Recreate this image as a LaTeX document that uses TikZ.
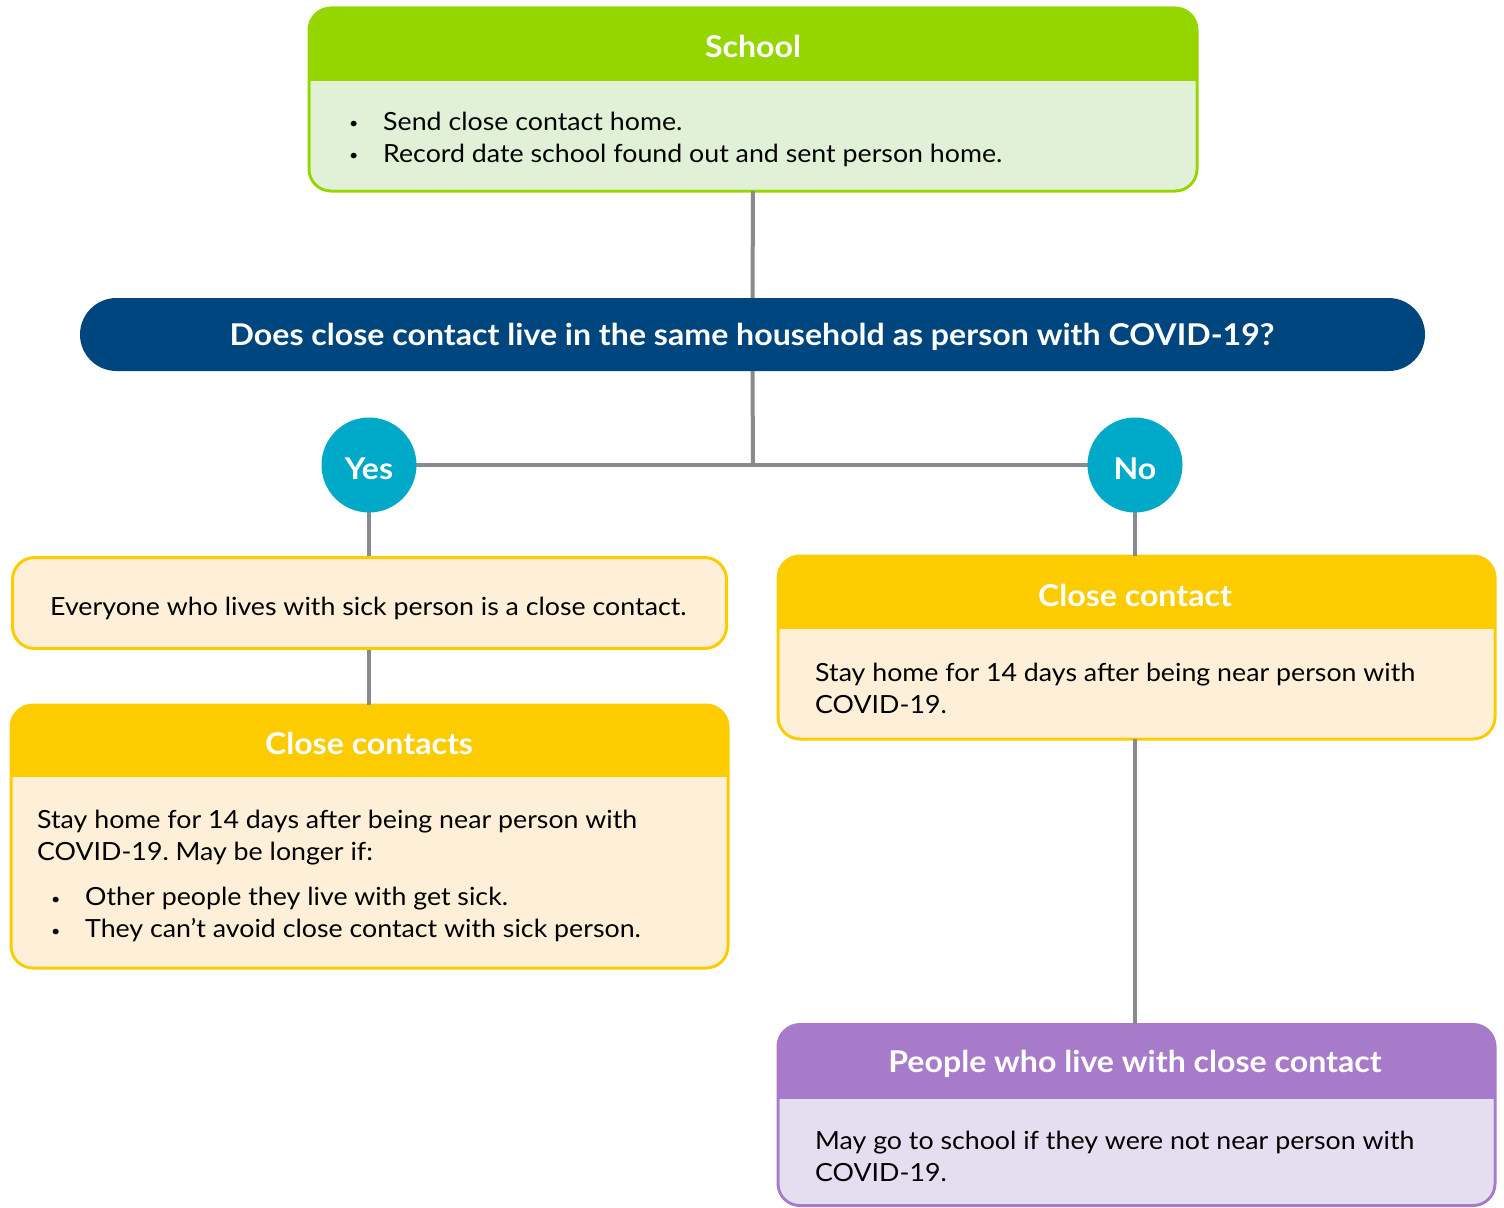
\documentclass[tikz,border=0pt]{standalone}
\usepackage{fontspec}
\setmainfont{Lato}[FakeStretch=1.07]
\frenchspacing
\definecolor{grn}{RGB}{149,214,0}
\definecolor{grnbg}{RGB}{225,241,215}
\definecolor{navy}{RGB}{0,70,126}
\definecolor{teal}{RGB}{0,169,199}
\definecolor{lgray}{RGB}{137,138,141}
\definecolor{ylw}{RGB}{252,204,0}
\definecolor{cream}{RGB}{254,240,216}
\definecolor{purp}{RGB}{167,123,202}
\definecolor{lav}{RGB}{229,222,240}
\tikzset{
  card/.style={rectangle, rounded corners=22pt, line width=3pt, inner sep=0pt},
  hdrtext/.style={text=white, font=\fontsize{30}{34}\selectfont\bfseries},
  bodytext/.style={text=black, font=\fontsize{25}{32}\selectfont, align=left, inner sep=0pt, anchor=west},
  conn/.style={draw=lgray, line width=4pt},
  ball/.style={circle, fill=teal, minimum size=95pt, inner sep=0pt, text=white, text height=28pt, text depth=0pt, font=\fontsize{30}{34}\selectfont\bfseries},
}
\newcommand{\bul}{\makebox[36pt][l]{\hspace*{2pt}\raisebox{1.5pt}{\fontsize{15}{15}\selectfont\textbullet}}}
\newcommand{\header}[3]{% node, height, colour
  \begin{scope}
    \clip[rounded corners=22pt] (#1.north west) rectangle (#1.south east);
    \fill[#3] (#1.north west) rectangle ([yshift=-#2]#1.north east);
  \end{scope}
  \draw[#3, line width=3pt, rounded corners=22pt] (#1.north west) rectangle (#1.south east);
}
\begin{document}
\begin{tikzpicture}[x=1pt,y=-1pt]
\useasboundingbox (0,0) rectangle (1504,1207);

% School
\node[card, fill=grnbg, minimum width=885pt, minimum height=180pt] (school) at (753,99.5) {};
\header{school}{73pt}{grn}
\node[hdrtext] (schoolT) at (753,46) {School};
\node[bodytext] (schoolB) at (347,139) {\bul Send close contact home.\\ \bul Record date school found out and sent person home.};

% Question
\node[rectangle, rounded corners=36.5pt, fill=navy, minimum width=1345pt, minimum height=73pt] (q) at (752.5,334.5) {};
\node[hdrtext] (qT) at (752,337) {Does close contact live in the same household as person with COVID-19?};

% Yes / No
\coordinate (j) at (753,465);
\coordinate (yesc) at (369,465);
\coordinate (noc) at (1135,465);

% Everyone box
\node[card, draw=ylw, fill=cream, minimum width=714pt, minimum height=91pt] (every) at (369.5,603) {};
\node[bodytext] (everyT) at (50,608) {Everyone who lives with sick person is a close contact.};

% Close contacts
\node[card, fill=cream, minimum width=714pt, minimum height=260pt] (ccs) at (369.5,836.5) {};
\header{ccs}{72pt}{ylw}
\node[hdrtext] (ccsT) at (369,743) {Close contacts};
\node[bodytext] (ccsB) at (37,876) {Stay home for 14 days after being near person with\\ COVID-19. May be longer if:\\[13pt] \hspace*{12pt}\bul Other people they live with get sick.\\ \hspace*{12pt}\bul They can’t avoid close contact with sick person.};

% Close contact (right)
\node[card, fill=cream, minimum width=714pt, minimum height=180pt] (cc) at (1136.5,647.5) {};
\header{cc}{73pt}{ylw}
\node[hdrtext] (ccT) at (1135,595) {Close contact};
\node[bodytext] (ccB) at (815,688) {Stay home for 14 days after being near person with\\ COVID-19.};

% People
\node[card, fill=lav, minimum width=714pt, minimum height=178pt] (ppl) at (1136.5,1115) {};
\header{ppl}{74pt}{purp}
\node[hdrtext] (pplT) at (1135,1064) {People who live with close contact};
\node[bodytext] (pplB) at (815,1156) {May go to school if they were not near person with\\ COVID-19.};

% connectors
\draw[conn] (school.south) -- (q.north);
\draw[conn] (q.south) -- (j);
\draw[conn] (yesc) -- (noc);
\draw[conn] (yesc) -- (every.north -| yesc);
\draw[conn] (every.south -| yesc) -- (ccs.north -| yesc);
\draw[conn] (noc) -- (cc.north -| noc);
\draw[conn] (cc.south -| noc) -- (ppl.north -| noc);
\node[ball] (yes) at (yesc) {Yes};
\node[ball] (no) at (noc) {No};
\end{tikzpicture}
\end{document}
